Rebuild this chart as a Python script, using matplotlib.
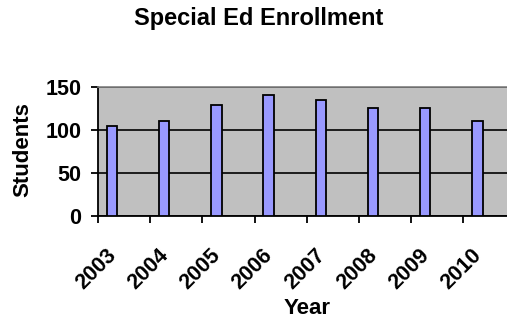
import matplotlib
matplotlib.use("Agg")
import matplotlib.pyplot as plt
import numpy as np

plt.rcParams['font.family'] = ['Liberation Sans', 'DejaVu Sans']
plt.rcParams['font.weight'] = 'bold'

years = ['2003', '2004', '2005', '2006', '2007', '2008', '2009', '2010']
students = [105, 111, 129, 141, 135, 125, 125, 110]

W, H = 507, 323
fig = plt.figure(figsize=(W / 100, H / 100), dpi=100)
# plot area runs past the right edge, like the cropped original
ax = fig.add_axes([98 / W, 1 - 216 / H, 8 * 52.2 / W, 129 / H])
ax.set_facecolor('#C0C0C0')

x = np.arange(len(years))
offset = -0.5 + 14 / 52.2
ax.bar(x + offset, students, width=0.2, color='#9999FF', edgecolor='black',
       linewidth=1.3, zorder=3)

ax.set_xlim(-0.5, len(years) - 0.5)
ax.set_ylim(0, 150)
ax.set_yticks([0, 50, 100, 150])
ax.yaxis.grid(True, color='black', linewidth=1.2)
ax.set_axisbelow(True)

# tick marks on category borders, labels a bit left of centers
ax.set_xticks(np.arange(len(years)) - 0.5)
ax.set_xticklabels([])
ax.set_xticks(x - 11 / 52.2, minor=True)
ax.set_xticklabels(years, minor=True, rotation=45, ha='right', va='center',
                   rotation_mode='anchor', fontsize=15.5, fontweight='bold')
ax.tick_params(axis='x', which='minor', length=0, pad=26)
ax.tick_params(axis='x', which='major', length=5, width=1.3, direction='out')
ax.tick_params(axis='y', length=5, width=1.3, direction='out', labelsize=15.5, pad=7)
for t in ax.get_yticklabels():
    t.set_fontweight('bold')

for s in ['left', 'bottom']:
    ax.spines[s].set_linewidth(1.3)
    ax.spines[s].set_color('black')
ax.spines['top'].set_color('#808080')
ax.spines['top'].set_linewidth(1.2)
ax.spines['right'].set_visible(False)

fig.text(23 / W, 1 - 150 / H, 'Students', rotation=90, ha='center', va='center',
         fontsize=16, fontweight='bold')
fig.text(307 / W, 1 - 309 / H, 'Year', ha='center', va='center',
         fontsize=16, fontweight='bold')
fig.text(259 / W, 1 - 19 / H, 'Special Ed Enrollment', ha='center', va='center',
         fontsize=17, fontweight='bold')

fig.savefig('out.png', dpi=100)
